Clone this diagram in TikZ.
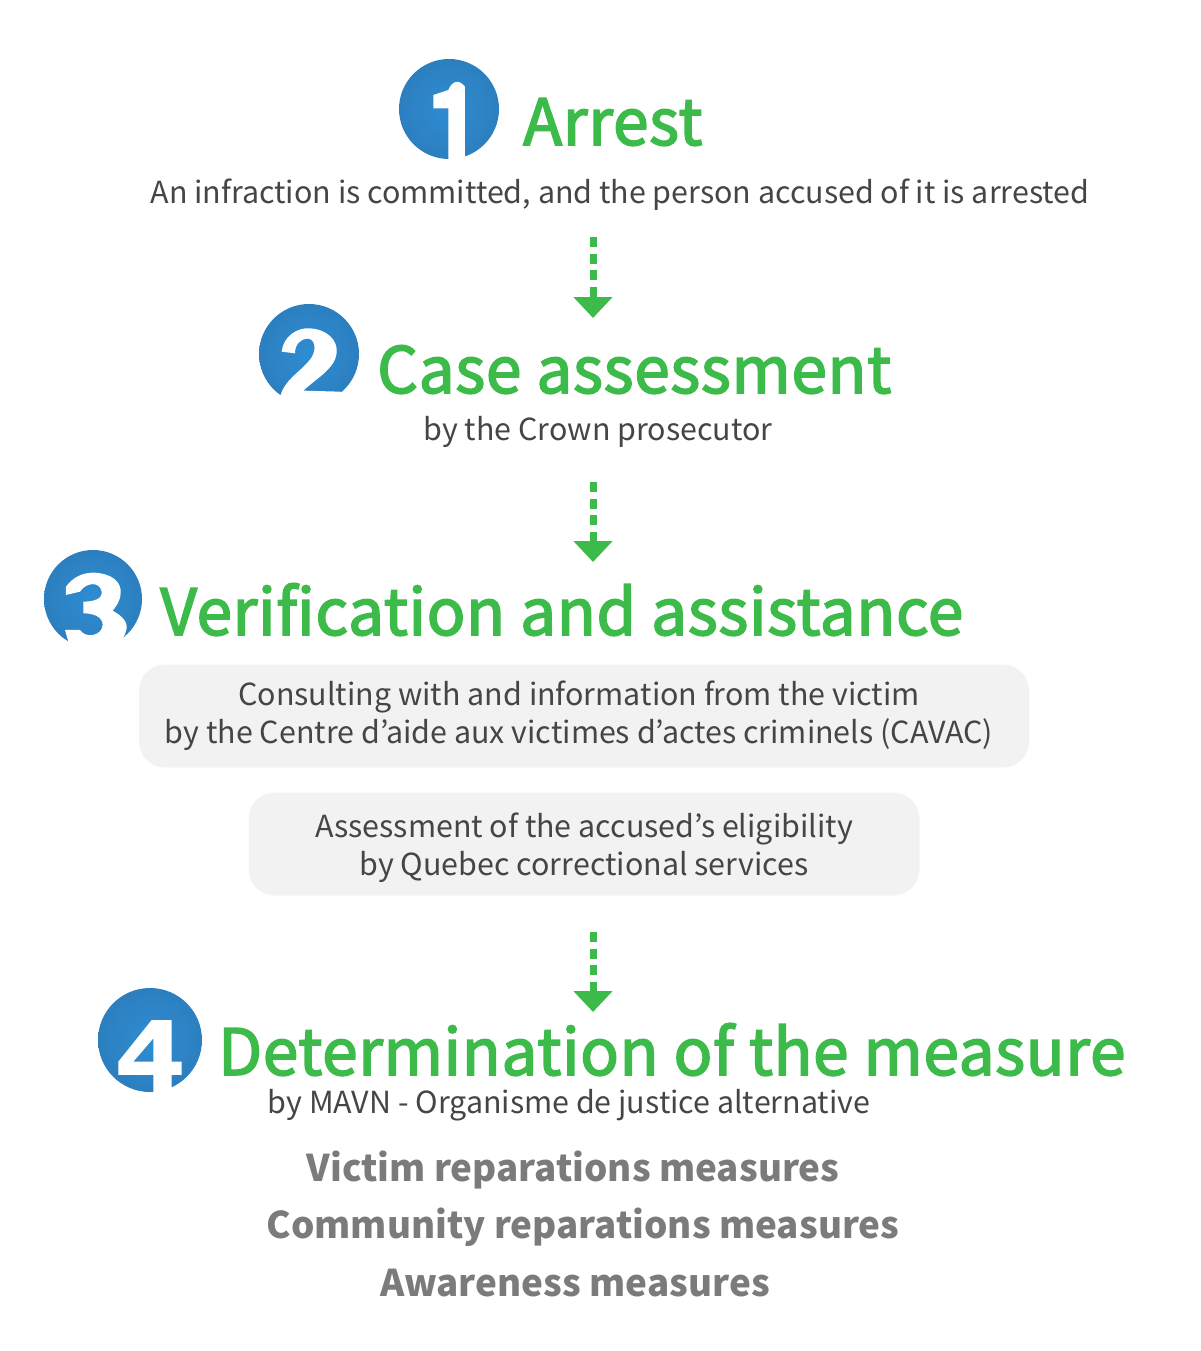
\documentclass[tikz,border=0pt]{standalone}
\usepackage{fontspec}
\usetikzlibrary{arrows.meta}
\setmainfont{Noto Sans CJK KR}
\newfontfamily\headfont[FakeBold=2.5,LetterSpace=1.0]{Noto Sans CJK KR}
\definecolor{hgreen}{HTML}{3DBB4A}
\definecolor{tgrey}{HTML}{454545}
\definecolor{mgrey}{HTML}{7B7B7B}
\definecolor{boxgrey}{HTML}{F2F2F2}
\definecolor{bluein}{HTML}{2E8DD2}
\definecolor{blueout}{HTML}{2C7FBF}
\newcommand{\plinetop}[1]{\rule{0pt}{#1pt}}
\newcommand{\plinebot}{\rule[-11pt]{0pt}{11pt}}
\tikzset{
  badge/.style={circle,inner sep=0pt,draw=none,inner color=bluein,outer color=blueout},
  head/.style={anchor=base west,inner sep=0pt,text=hgreen,font=\headfont\fontsize{64}{64}\selectfont},
  sub/.style={anchor=base,inner sep=0pt,text=tgrey,font=\fontsize{30.4}{30.4}\selectfont},
  meas/.style={anchor=base,inner sep=0pt,text=mgrey,font=\bfseries\fontsize{36.8}{36.8}\selectfont},
  panel/.style={rounded corners=26pt,fill=boxgrey,inner sep=0pt,text=tgrey,align=center,font=\fontsize{30.4}{38}\selectfont},
  flow/.style={hgreen,line width=7pt,dash pattern=on 10pt off 6.5pt,-{Triangle[width=38pt,length=21pt]}},
  digit/.style={fill=white,draw=none},
  zoomed/.style={x=0.3333pt,y=-0.3333pt}
}
\begin{document}
\begin{tikzpicture}[x=1pt,y=-1pt]
\useasboundingbox (0,0) rectangle (1200,1351);
% badges
\node[badge,minimum size=100pt] (b1) at (449,109) {};
\node[badge,minimum size=100pt] (b2) at (309,354) {};
\node[badge,minimum size=98pt] (b3) at (93,599) {};
\node[badge,minimum size=104pt] (b4) at (150,1040) {};
% digit 1
\begin{scope}[shift={(380,40)},zoomed]
\fill[digit] (160,165) -- (205,150) .. controls (215,125) and (235,115) .. (255,140) -- (255,360) -- (205,360) -- (205,205) -- (160,205) -- cycle;
\end{scope}
% digit 2
\begin{scope}[shift={(30,290)},zoomed]
\fill[digit] (755,185) .. controls (760,140) and (800,112) .. (840,115)
  .. controls (890,118) and (925,150) .. (920,190)
  .. controls (915,235) and (860,265) .. (820,302) -- (930,305) -- (970,315) -- (970,355) -- (720,355) -- (720,330) -- (752,315)
  .. controls (765,270) and (810,245) .. (835,215)
  .. controls (860,190) and (860,150) .. (835,146)
  .. controls (810,146) and (795,165) .. (795,190) -- cycle;
\end{scope}
% digit 3
\begin{scope}[shift={(30,290)},zoomed]
\fill[digit] (108,890) .. controls (130,860) and (160,848) .. (190,848)
  .. controls (245,850) and (275,875) .. (272,910)
  .. controls (270,935) and (258,950) .. (248,962)
  .. controls (270,975) and (292,990) .. (290,1015)
  .. controls (285,1040) and (275,1055) .. (258,1070) -- (258,1090) -- (110,1090) -- (118,1066) -- (105,1020) -- (150,1020)
  .. controls (165,1045) and (215,1040) .. (218,1005)
  .. controls (218,980) and (190,970) .. (160,970) -- (160,935)
  .. controls (195,935) and (218,925) .. (215,905)
  .. controls (210,875) and (170,875) .. (150,905) -- (108,915) -- cycle;
\end{scope}
% digit 4
\begin{scope}[shift={(80,920)},zoomed]
\fill[digit,even odd rule] (215,300) -- (275,300) -- (275,425) -- (305,425) -- (305,465) -- (275,465) -- (275,525) -- (220,525) -- (220,465) -- (115,465) -- (115,425) -- cycle
 (220,355) -- (220,425) -- (160,425) -- cycle;
\end{scope}
% headings
\node[head] (h1) at (523,145) {Arrest};
\node[sub] (s1) at (620,204) {An infraction is committed, and the person accused of it is arrested};
\node[head] (h2) at (377,393) {Case assessment};
\node[sub] (s2) at (598,440) {by the Crown prosecutor};
\node[head] (h3) at (160,635) {Verification and assistance};
\node[panel,minimum width=890pt,minimum height=103pt] (p1) at (584,716) {\plinetop{28}Consulting with and information from the victim\hspace*{10pt}\\by the Centre d’aide aux victimes d’actes criminels (CAVAC)\hspace*{10pt}\plinebot};
\node[panel,minimum width=671pt,minimum height=103pt] (p2) at (584,844) {\plinetop{36}Assessment of the accused’s eligibility\\by Quebec correctional services\plinebot};
\node[head] (h4) at (218,1075) {Determination of the measure};
\node[sub] (s4) at (569,1113) {by MAVN - Organisme de justice alternative};
\node[meas] (m1) at (573,1181) {Victim reparations measures};
\node[meas] (m2) at (583,1238) {Community reparations measures};
\node[meas] (m3) at (575,1296) {Awareness measures};
% connectors
\coordinate (a1s) at (593,237); \coordinate (a1e) at (593,318);
\coordinate (a2s) at (593,482); \coordinate (a2e) at (593,562);
\coordinate (a3s) at (593,932); \coordinate (a3e) at (593,1012);
\draw[flow] (a1s) -- (a1e);
\draw[flow] (a2s) -- (a2e);
\draw[flow] (a3s) -- (a3e);
\end{tikzpicture}
\end{document}
